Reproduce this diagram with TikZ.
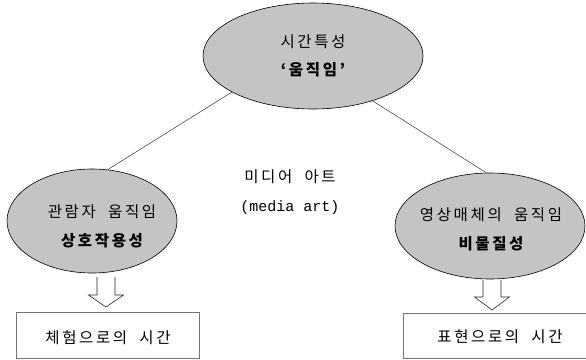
\documentclass[tikz,border=0pt]{standalone}
\usepackage{fontspec}
\newfontfamily\kr[LetterSpace=17, WordSpace=2]{Noto Sans CJK KR}
\newfontfamily\latmono{Liberation Mono}
\usetikzlibrary{shapes.geometric}
\tikzset{
  bubble/.style={ellipse, draw=black, line width=0.6pt, fill=black!23, inner sep=0pt},
  label/.style={font=\kr\fontsize{15.5}{28}\selectfont, align=center, inner sep=0pt},
  link/.style={draw=black!80, line width=0.5pt},
  hollow/.style={draw=black!85, line width=0.6pt, line join=miter},
  outcome/.style={draw=black!55, line width=0.5pt}
}
\begin{document}
\begin{tikzpicture}[x=1pt, y=-1pt]
\useasboundingbox (0,0) rectangle (586,359);
% ellipses
\node[bubble, minimum width=220pt, minimum height=106pt] (top) at (313,56) {};
\node[bubble, minimum width=170pt, minimum height=104pt] (left) at (92,221) {};
\node[bubble, minimum width=190pt, minimum height=106pt] (right) at (490,226) {};
% texts
\node[label] (t1) at (313,42) {시간특성};
\node[label] (t2) at (313,70) {\bfseries ‘움직임’};
\node[label] (l1) at (102,212) {관람자 움직임};
\node[label] (l2) at (102,241) {\bfseries 상호작용성};
\node[label] (r1) at (491,215) {영상매체의 움직임};
\node[label] (r2) at (491,244) {\bfseries 비물질성};
\node[label] (m1) at (290,177) {미디어 아트};
\node[inner sep=0pt, font=\latmono\fontsize{15}{17}\selectfont] (m2) at (290,208) {(media art)};
% connectors
\draw[link] (top.204) -- (left.73);
\draw[link] (top.323) -- (right.94);
% hollow arrows
\coordinate (la) at (106,277);
\coordinate (ra) at (492,280);
\draw[hollow] ([xshift=-9pt]la) -- ++(0,18) -- ++(-8.5,0) -- ++(17.5,12) -- ++(17.5,-12) -- ++(-8.5,0) -- ++(0,-18);
\draw[hollow] ([xshift=-9pt]ra) -- ++(0,17) -- ++(-8.5,0) -- ++(17.5,13) -- ++(17.5,-13) -- ++(-8.5,0) -- ++(0,-17);
% outcome boxes
\draw[outcome] (16,312) rectangle (199,358);
\draw[outcome] (403,313) rectangle (600,358);
\node[label] (lb) at (108,338) {체험으로의 시간};
\node[label] (rb) at (500,337) {표현으로의 시간};
\end{tikzpicture}
\end{document}
